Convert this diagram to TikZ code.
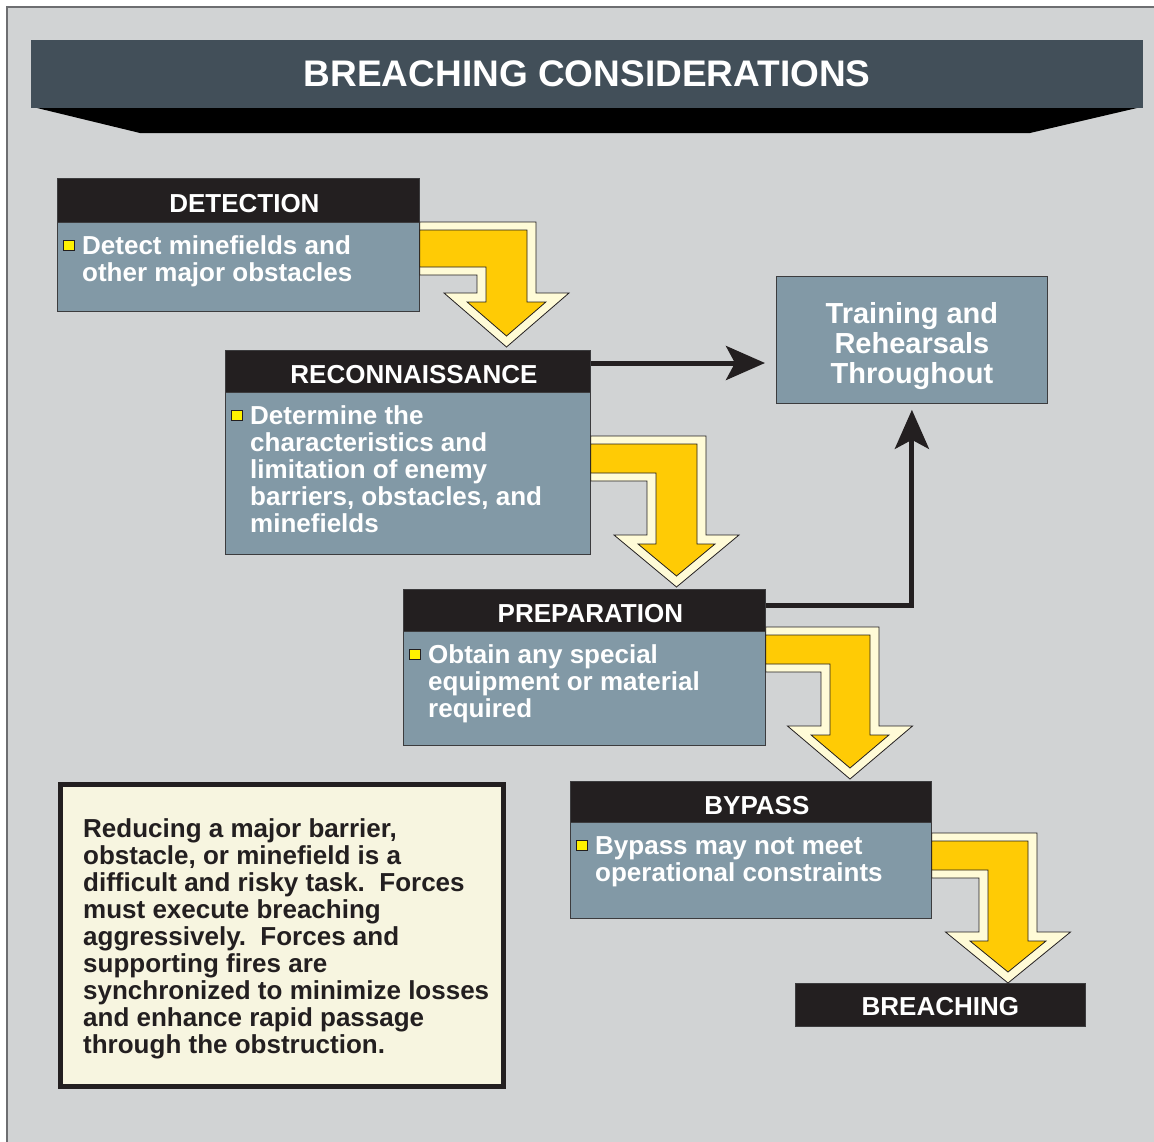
\documentclass[tikz,border=0pt]{standalone}
\usepackage{fontspec}
\setmainfont{Liberation Sans}
\usetikzlibrary{arrows.meta}

\definecolor{panel}{HTML}{D1D3D4}
\definecolor{framegray}{HTML}{6D6E71}
\definecolor{banner}{HTML}{424F59}
\definecolor{hdrdark}{HTML}{231F20}
\definecolor{bodyblue}{HTML}{8299A6}
\definecolor{edgegray}{HTML}{3C3C3E}
\definecolor{bulletyellow}{HTML}{FFF200}
\definecolor{arrowgold}{HTML}{FFCB05}
\definecolor{arrowcream}{HTML}{FFFBD7}
\definecolor{notefill}{HTML}{F7F5E0}
\definecolor{ink}{HTML}{231F20}

\newcommand{\bodyfont}{\fontsize{26}{27}\selectfont\bfseries}
% left-aligned lines whose baseline is the first line
\newcommand{\toplines}[1]{\begin{tabular}[t]{@{}l@{}}#1\end{tabular}}

% one step: dark title strip on top of a blue-gray body with a bulleted text
\newcommand{\stepbox}[8]{%
  \node[bodybox, minimum width=#4pt, minimum height=#6pt] (#1b) at (#2,{#3+#5}) {};
  \node[hdrbox, minimum width=#4pt, minimum height=#5pt] (#1) at (#2,#3) {\hspace*{12pt}#7};
  \node[bulletbox] (#1m) at ([xshift=6pt,yshift=-18pt]#1b.north west) {};
  \node[itemtext] (#1t) at ([xshift=25pt,yshift=-32pt]#1b.north west) {\toplines{#8}};
}

% bent double-outlined arrow leaving a box on its right side
% #1 source node, #2 top, #3 band bottom, #4 shaft left, #5 shaft right, #6 head base, #7 tip
\newcommand{\bentarrow}[7]{%
  \draw[bentouter] (#1.east |- 0,#2) -- (#5,#2) -- (#5,#6) -- ({(#4+#5)/2+62.5},#6)
    -- ({(#4+#5)/2},#7) -- ({(#4+#5)/2-62.5},#6) -- (#4,#6) -- (#4,#3)
    -- (#1.east |- 0,#3) -- cycle;
  \draw[bentinner] (#1.east |- 0,{#2+8}) -- ({#5-9},{#2+8}) -- ({#5-9},{#6+9})
    -- ({(#4+#5)/2+(#7-#6-20)*62.5/(#7-#6)},{#6+9}) -- ({(#4+#5)/2},{#7-11})
    -- ({(#4+#5)/2-(#7-#6-20)*62.5/(#7-#6)},{#6+9}) -- ({#4+9},{#6+9})
    -- ({#4+9},{#3-8}) -- (#1.east |- 0,{#3-8}) -- cycle;
}

\tikzset{
  hdrbox/.style={fill=hdrdark, draw=edgegray, line width=0.8pt, anchor=north west,
    inner sep=0pt, text=white, font=\bodyfont, text height=25pt, text depth=0pt},
  bodybox/.style={fill=bodyblue, draw=edgegray, line width=0.8pt, anchor=north west, inner sep=0pt},
  bulletbox/.style={fill=bulletyellow, draw=ink, line width=0.8pt, minimum width=11pt,
    minimum height=10pt, inner sep=0pt, anchor=north west},
  itemtext/.style={text=white, font=\bodyfont, anchor=base west, inner sep=0pt},
  bentouter/.style={fill=arrowcream, draw=ink, line width=0.8pt, line join=miter},
  bentinner/.style={fill=arrowgold, draw=ink, line width=0.8pt, line join=miter},
  conn/.style={draw=ink, line width=5pt,
    -{Stealth[length=39pt, width=34pt, inset=9pt]}},
}

\begin{document}
\begin{tikzpicture}[x=1pt, y=-1pt]
  \useasboundingbox (0,0) rectangle (1154,1141);
  \fill[white] (0,0) rectangle (1154,1141);
  \filldraw[fill=panel, draw=framegray, line width=1.5pt] (7,7) rectangle (1175,1165);

  % title banner with its dark wedge below
  \fill[black] (37,108) -- (1137,108) -- (1030,133) -- (140,133) -- cycle;
  \node[fill=banner, anchor=north west, inner sep=0pt, minimum width=1112pt, minimum height=68pt,
    text=white, font=\fontsize{37}{40}\selectfont\bfseries, text height=24pt, text depth=0pt]
    (banner) at (31,40) {BREACHING CONSIDERATIONS};

  % the steps
  \stepbox{det}{57}{178}{362}{44}{89}{DETECTION}
    {Detect minefields and\\other major obstacles}
  \stepbox{rec}{225}{350}{365}{42}{162}{RECONNAISSANCE}
    {Determine the\\characteristics and\\limitation of enemy\\barriers, obstacles, and\\minefields}
  \stepbox{prep}{403}{589}{362}{42}{114}{PREPARATION}
    {Obtain any special\\equipment or material\\required}
  \stepbox{byp}{570}{781}{361}{41}{96}{BYPASS}
    {Bypass may not meet\\operational constraints}
  \node[hdrbox, minimum width=290pt, minimum height=43pt, text height=22pt] (breach) at (795,983) {BREACHING};

  % yellow flow arrows between the steps
  \bentarrow{det}{222}{275}{477}{536}{293}{347}
  \bentarrow{recb}{436}{481}{647}{706}{535}{587}
  \bentarrow{prepb}{627}{672}{821}{879}{726}{779}
  \bentarrow{bypb}{833}{878}{979}{1037}{932}{983}

  % training box and its feeds
  \node[bodybox, minimum width=271pt, minimum height=127pt] (train) at (776,276) {};
  \node[text=white, font=\fontsize{29}{30}\selectfont\bfseries, align=center, inner sep=0pt]
    (traint) at ([yshift=-6.5pt]train.center) {Training and\\Rehearsals\\Throughout};
  \draw[conn, shorten >=11pt] (rec.east |- 0,363) -- (train.west |- 0,363);
  \draw[conn, shorten >=6pt] (prep.east |- 0,605) -| (train.south);

  % note
  \node[fill=notefill, draw=ink, line width=5pt, anchor=north west, inner sep=0pt,
    minimum width=443pt, minimum height=302pt] (note) at (58,782) {};
  \node[text=ink, font=\bodyfont, anchor=base west, inner sep=0pt] (notet)
    at ([xshift=25pt,yshift=-55pt]note.north west)
    {\toplines{Reducing a major barrier,\\obstacle, or minefield is a\\difficult and risky task.\ \ Forces\\must execute breaching\\aggressively.\ \ Forces and\\supporting fires are\\synchronized to minimize losses\\and enhance rapid passage\\through the obstruction.}};
\end{tikzpicture}
\end{document}
